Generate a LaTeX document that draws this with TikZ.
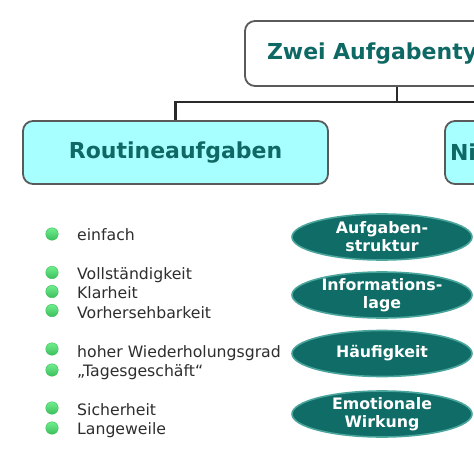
\documentclass[tikz,border=0pt]{standalone}
\usepackage{fontspec}
\setmainfont{DejaVu Sans}
\usetikzlibrary{shapes.geometric}
\definecolor{tealtext}{HTML}{0E6863}
\definecolor{boxline}{HTML}{5A5A5A}
\definecolor{cyanfill}{HTML}{A8FFFF}
\definecolor{ovalfill}{HTML}{0F6C66}
\definecolor{ovalline}{HTML}{4AA69C}
\definecolor{dottop}{HTML}{6FEE8C}
\definecolor{dotbot}{HTML}{3DBE5C}
\definecolor{bodytext}{HTML}{2E2E2E}
\definecolor{linkline}{HTML}{2A2A2A}
\begin{document}
\begin{tikzpicture}[x=1pt,y=-1pt,
  headbox/.style={draw=boxline, line width=1.8pt, rounded corners=10pt, inner xsep=0pt, align=left,
    font=\fontsize{22}{26}\selectfont\bfseries, text=tealtext},
  link/.style={draw=linkline, line width=2.4pt},
  oval/.style={ellipse, fill=ovalfill, draw=ovalline, line width=1.6pt, minimum width=180pt, minimum height=46pt, inner sep=0pt},
  ovaltext/.style={align=center, text=white, font=\fontsize{15.8}{18}\selectfont\bfseries, inner sep=0pt},
  dot/.style={circle, minimum size=12.5pt, inner sep=0pt, top color=dottop, bottom color=dotbot, draw=dotbot, line width=0.4pt},
  item/.style={anchor=base west, inner sep=0pt, text=bodytext, font=\fontsize{15.7}{18}\selectfont}
]
\useasboundingbox (0,0) rectangle (474,475);
\clip (0,0) rectangle (474,475);
\fill[white] (0,0) rectangle (474,475);

% header boxes
\node[headbox, fill=white, minimum width=304pt, minimum height=65pt, text width=304pt] (title) at (397,53.5) {\hspace*{22pt}Zwei Aufgabenty};
\node[headbox, fill=cyanfill, minimum width=305pt, minimum height=63pt, align=center, text width=305pt] (routine) at (175.5,152.5) {Routineaufgaben};
\node[headbox, fill=cyanfill, minimum width=346pt, minimum height=63pt, text width=346pt] (nicht) at (618,152.5) {\hspace*{5pt}Ni};

% connectors
\coordinate (hub) at (397,102);
\draw[link] (title.south) -- (hub);
\draw[link] (hub) -| (routine.north);
\draw[link] (hub) -| (nicht.north);

% ovals
\node[oval] (o1) at (382,237) {};
\node[ovaltext] (o1t) at (o1.center) {Aufgaben-\\struktur};
\node[oval] (o2) at (382,295) {};
\node[ovaltext] (o2t) at (o2.center) {Informations-\\lage};
\node[oval] (o3) at (382,353.5) {};
\node[ovaltext] (o3t) at (o3.center) {Häufigkeit};
\node[oval] (o4) at (382,414) {};
\node[ovaltext] (o4t) at (o4.center) {Emotionale\\Wirkung};

% bullet list
\node[dot] (b1) at (52,234) {};
\node[item] (t1) at (77,240) {einfach};
\node[dot] (b2) at (52,272.5) {};
\node[item] (t2) at (77,279) {Vollständigkeit};
\node[dot] (b3) at (52,291.5) {};
\node[item] (t3) at (77,298.5) {Klarheit};
\node[dot] (b4) at (52,310.5) {};
\node[item] (t4) at (77,318) {Vorhersehbarkeit};
\node[dot] (b5) at (52,349) {};
\node[item] (t5) at (77,357) {hoher Wiederholungsgrad};
\node[dot] (b6) at (52,370) {};
\node[item] (t6) at (77,376) {„Tagesgeschäft“};
\node[dot] (b7) at (52,408) {};
\node[item] (t7) at (77,415) {Sicherheit};
\node[dot] (b8) at (52,428) {};
\node[item] (t8) at (77,434) {Langeweile};
\end{tikzpicture}
\end{document}
